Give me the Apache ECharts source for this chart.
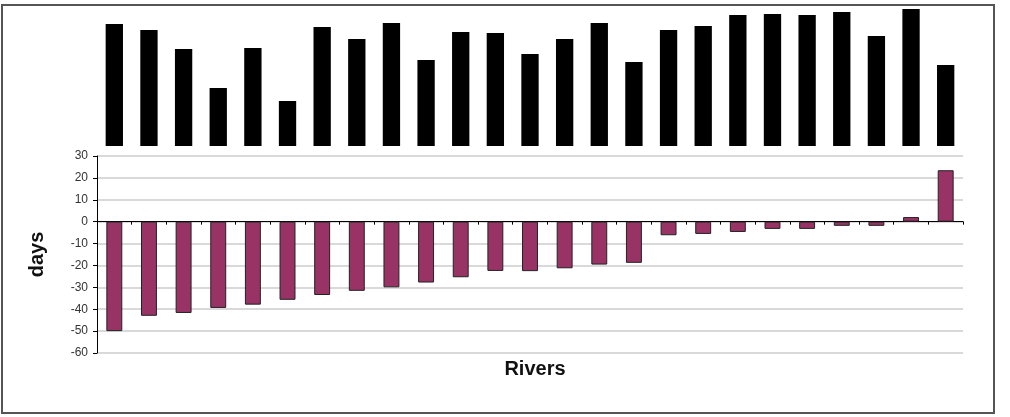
<!DOCTYPE html>
<html>
<head>
<meta charset="utf-8">
<script src="https://cdn.jsdelivr.net/npm/echarts@6/dist/echarts.min.js"></script>
<style>
html, body { margin: 0; padding: 0; background: #fff; }
#main { width: 1010px; height: 417px; }
</style>
</head>
<body>
<div id="main"></div>
<script>
// rivers (names are blacked out in the source, only their label blocks remain)
var rivers = ['R1','R2','R3','R4','R5','R6','R7','R8','R9','R10','R11','R12','R13',
              'R14','R15','R16','R17','R18','R19','R20','R21','R22','R23','R24','R25'];
// length of the black label blocks above the plot
var labelBlocks = [122, 116, 97, 58, 98, 45, 119, 107, 123, 86, 114, 113, 92,
                   107, 123, 84, 116, 120, 131, 132, 131, 134, 110, 137, 81];
// change in days
var days = [-50, -43, -41.7, -39.4, -37.9, -35.7, -33.5, -31.6, -30, -27.8, -25.4, -22.5, -22.6,
            -21.3, -19.6, -18.8, -6.2, -5.6, -4.7, -3.3, -3.3, -1.9, -1.9, 2.1, 23.5];
var yTicks = [-60, 30, 10];   // min, max, interval

var myChart = echarts.init(document.getElementById('main'));

var fontFam = 'Liberation Sans, Arial, sans-serif';

var option = {
    animation: false,
    textStyle: { fontFamily: fontFam },
    graphic: [
        {
            type: 'rect',
            shape: { x: 2, y: 5, width: 992, height: 408 },
            style: { fill: 'none', stroke: '#555', lineWidth: 2 },
            z: 0
        },
        {
            type: 'text',
            x: 535,
            y: 369,
            style: {
                text: 'Rivers',
                align: 'center',
                verticalAlign: 'middle',
                fontSize: 20,
                fontWeight: 'bold',
                fontFamily: fontFam,
                fill: '#111'
            }
        }
    ],
    grid: [
        { left: 97, right: 47, top: 156, bottom: 64 },
        { left: 97, right: 47, top: 6, bottom: 271 }
    ],
    xAxis: [
        {
            type: 'category',
            gridIndex: 0,
            data: rivers,
            axisLine: { onZero: true, lineStyle: { color: '#000', width: 1 } },
            axisTick: { show: true, inside: false, length: 3, lineStyle: { color: '#000' } },
            axisLabel: { show: false },
            splitLine: { show: false }
        },
        {
            type: 'category',
            gridIndex: 1,
            data: rivers,
            show: false
        }
    ],
    yAxis: [
        {
            type: 'value',
            gridIndex: 0,
            min: yTicks[0],
            max: yTicks[1],
            interval: yTicks[2],
            name: 'days',
            nameLocation: 'middle',
            nameGap: 50,
            nameRotate: 90,
            nameTextStyle: { fontSize: 20, fontWeight: 'bold', color: '#111' },
            axisLine: { show: true, lineStyle: { color: '#000', width: 1 } },
            axisTick: { show: true, length: 4, lineStyle: { color: '#000' } },
            axisLabel: { fontSize: 12, color: '#333', margin: 9 },
            splitLine: { show: true, lineStyle: { color: '#cdcdcd', width: 1.5 } }
        },
        {
            type: 'value',
            gridIndex: 1,
            min: 0,
            max: 140,
            show: false
        }
    ],
    series: [
        {
            name: 'days',
            type: 'bar',
            xAxisIndex: 0,
            yAxisIndex: 0,
            data: days,
            barWidth: '46%',
            itemStyle: { color: '#993366', borderColor: '#222', borderWidth: 1 }
        },
        {
            name: 'labels',
            type: 'bar',
            xAxisIndex: 1,
            yAxisIndex: 1,
            data: labelBlocks,
            barWidth: '50%',
            itemStyle: { color: '#000' }
        }
    ]
};

myChart.setOption(option);
</script>
</body>
</html>
